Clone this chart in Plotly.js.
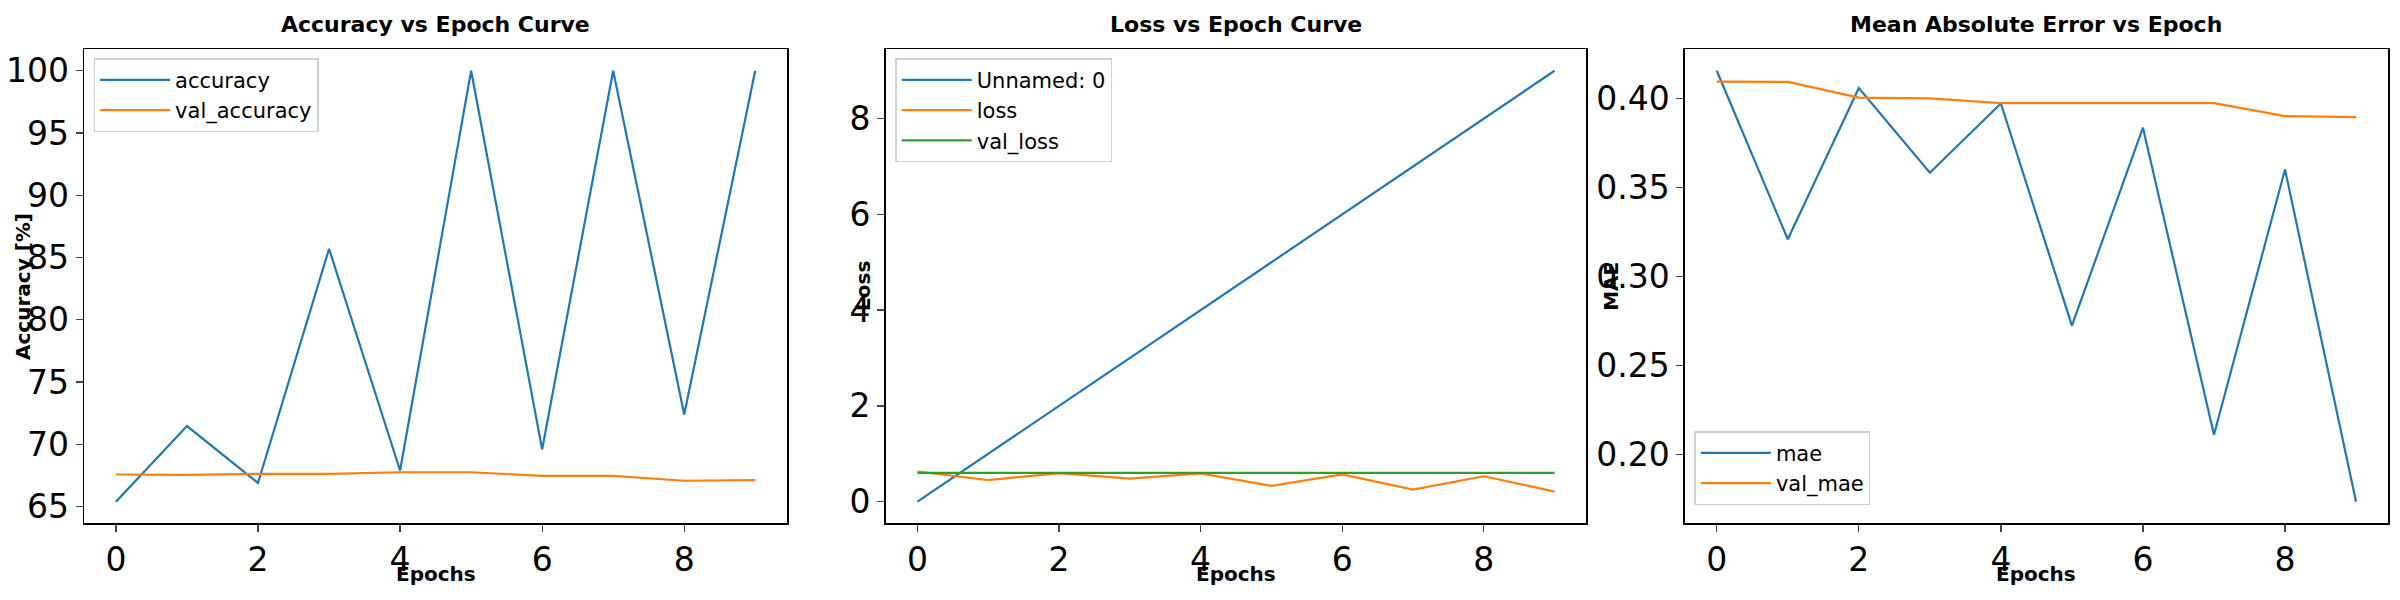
<!DOCTYPE html>
<html>
<head>
<meta charset="utf-8">
<script src="https://cdn.plot.ly/plotly-3.0.1.min.js"></script>
<style>html,body{margin:0;padding:0;background:#fff;}</style>
</head>
<body>
<div id="chart" style="width:2400px;height:600px;"></div>
<script>
// Training history ----------------------------------------------------------
const epochs = [0, 1, 2, 3, 4, 5, 6, 7, 8, 9];
const accuracy = [65.4, 71.47, 66.9, 85.7, 67.9, 100, 69.6, 100, 72.4, 100];
const valAccuracy = [67.58, 67.55, 67.63, 67.63, 67.76, 67.76, 67.47, 67.47, 67.08, 67.13];
const unnamed = [0, 1, 2, 3, 4, 5, 6, 7, 8, 9];
const loss = [0.63, 0.45, 0.595, 0.48, 0.59, 0.33, 0.57, 0.25, 0.53, 0.21];
const valLoss = [0.60, 0.60, 0.60, 0.60, 0.60, 0.60, 0.60, 0.60, 0.60, 0.60];
const mae = [0.4157, 0.321, 0.406, 0.3584, 0.3973, 0.2724, 0.3837, 0.2111, 0.3602, 0.1735];
const valMae = [0.4096, 0.4094, 0.4006, 0.4002, 0.3975, 0.3975, 0.3978, 0.3975, 0.3902, 0.3896];

const BLUE = '#1f77b4', ORANGE = '#ff7f0e', GREEN = '#2ca02c';
const FONT = 'DejaVu Sans, sans-serif';

const line = (x, y, name, color, xa, ya, lg) => ({
    type: 'scatter', mode: 'lines', x, y, name,
    line: { color, width: 2.2 }, xaxis: xa, yaxis: ya, legend: lg,
});

const traces = [
    line(epochs, accuracy, 'accuracy', BLUE, 'x', 'y', 'legend'),
    line(epochs, valAccuracy, 'val_accuracy', ORANGE, 'x', 'y', 'legend'),
    line(epochs, unnamed, 'Unnamed: 0', BLUE, 'x2', 'y2', 'legend2'),
    line(epochs, loss, 'loss', ORANGE, 'x2', 'y2', 'legend2'),
    line(epochs, valLoss, 'val_loss', GREEN, 'x2', 'y2', 'legend2'),
    line(epochs, mae, 'mae', BLUE, 'x3', 'y3', 'legend3'),
    line(epochs, valMae, 'val_mae', ORANGE, 'x3', 'y3', 'legend3'),
];

const yDom = [0.128, 0.918];
const xDoms = [[0.035, 0.328], [0.369, 0.661], [0.702, 0.995]];

function xAxis(i) {
    return {
        domain: xDoms[i], anchor: i ? 'y' + (i + 1) : 'y', range: [-0.45, 9.45],
        tickvals: [0, 2, 4, 6, 8], ticks: 'outside', ticklen: 7, tickwidth: 1.3,
        showline: true, mirror: true, linecolor: '#000', linewidth: 1.5, showgrid: false, zeroline: false,
        tickfont: { size: 33, color: '#000' }, automargin: false,
    };
}
function yAxis(i, range, dtick, fmt) {
    return {
        domain: yDom, anchor: i ? 'x' + (i + 1) : 'x', range, dtick, tickformat: fmt,
        ticks: 'outside', ticklen: 7, tickwidth: 1.3,
        showline: true, mirror: true, linecolor: '#000', linewidth: 1.5, showgrid: false, zeroline: false,
        tickfont: { size: 33, color: '#000' }, automargin: false,
    };
}

const ann = (text, x, y, size, extra) => Object.assign({
    text: '<b>' + text + '</b>', xref: 'paper', yref: 'paper', x, y,
    xanchor: 'center', yanchor: 'middle', showarrow: false, font: { size, color: '#000' },
}, extra || {});
const mid = i => (xDoms[i][0] + xDoms[i][1]) / 2;

const legendStyle = (x, y, yanchor) => ({
    x, y, xanchor: 'left', yanchor, bgcolor: 'rgba(255,255,255,0.8)',
    bordercolor: '#d0d0d0', borderwidth: 1.5, font: { size: 21, color: '#000' },
    tracegroupgap: 0, itemwidth: 70,
});

const layout = {
    width: 2400, height: 600, paper_bgcolor: '#fff', plot_bgcolor: '#fff',
    margin: { l: 0, r: 0, t: 0, b: 0 },
    font: { family: FONT, color: '#000' },
    xaxis: xAxis(0), xaxis2: xAxis(1), xaxis3: xAxis(2),
    yaxis: yAxis(0, [63.67, 101.73], 5),
    yaxis2: yAxis(1, [-0.45, 9.45], 2),
    yaxis3: yAxis(2, [0.1614, 0.4278], 0.05, '.2f'),
    legend: legendStyle(xDoms[0][0] + 0.004, yDom[1] - 0.015, 'top'),
    legend2: legendStyle(xDoms[1][0] + 0.004, yDom[1] - 0.015, 'top'),
    legend3: legendStyle(xDoms[2][0] + 0.004, yDom[0] + 0.03, 'bottom'),
    annotations: [
        ann('Accuracy vs Epoch Curve', mid(0), 0.96, 22),
        ann('Loss vs Epoch Curve', mid(1), 0.96, 22),
        ann('Mean Absolute Error vs Epoch', mid(2), 0.96, 22),
        ann('Epochs', mid(0), 0.043, 20), ann('Epochs', mid(1), 0.043, 20), ann('Epochs', mid(2), 0.043, 20),
        ann('Accuracy [%]', 0.0095, 0.523, 20, { textangle: -90 }),
        ann('Loss', 0.3595, 0.523, 20, { textangle: -90 }),
        ann('MAE', 0.6715, 0.523, 20, { textangle: -90 }),
    ],
};

Plotly.newPlot('chart', traces, layout, { displayModeBar: false, staticPlot: true });
</script>
</body>
</html>
